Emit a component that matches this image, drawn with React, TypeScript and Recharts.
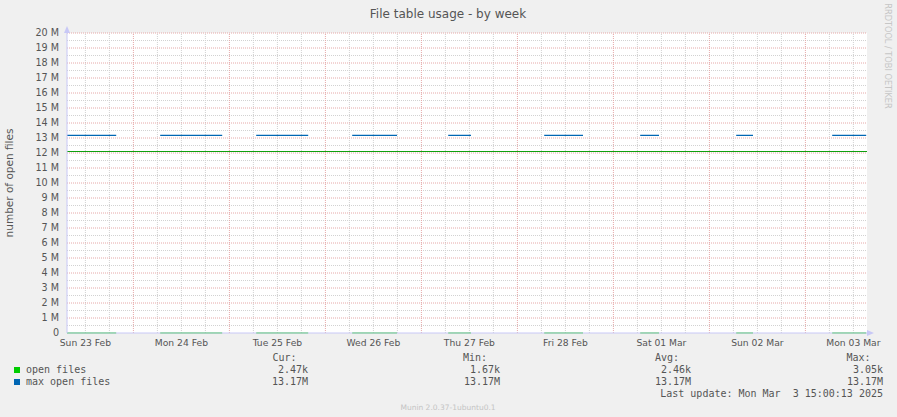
import React from "react";
import {
  LineChart,
  Line,
  XAxis,
  YAxis,
  CartesianGrid,
  ReferenceLine,
  ReferenceDot,
} from "recharts";

// hours since Sun 23 Feb 00:00; nulls break the line where the host was down
const hours = [7.4, 19.7, 25, 30.7, 46.2, 50, 54.7, 67.7, 74, 78.7, 89.9, 98, 102.7, 108.4, 120, 126.7, 136.4, 144, 150.7, 155.4, 165, 174.7, 178.9, 190, 198.7, 207.2];
const openFiles = [1900, 2600, null, 1670, 2900, null, 2300, 2700, null, 2200, 3050, null, 2100, 2500, null, 2400, 2800, null, 2000, 2600, null, 2300, 2500, null, 2200, 2470];
const maxOpenFiles = [13.17e6, 13.17e6, null, 13.17e6, 13.17e6, null, 13.17e6, 13.17e6, null, 13.17e6, 13.17e6, null, 13.17e6, 13.17e6, null, 13.17e6, 13.17e6, null, 13.17e6, 13.17e6, null, 13.17e6, 13.17e6, null, 13.17e6, 13.17e6];
const warning = 12.1e6;

const dayTicks = [12, 36, 60, 84, 108, 132, 156, 180, 204];
const dayLabels = ["Sun 23 Feb", "Mon 24 Feb", "Tue 25 Feb", "Wed 26 Feb", "Thu 27 Feb", "Fri 28 Feb", "Sat 01 Mar", "Sun 02 Mar", "Mon 03 Mar"];
const X_DOMAIN = [7.4, 207.4];
const Y_MAX = 20e6;

const legendRows = [
  { name: "open files", color: "#00cc00", cur: "2.47k", min: "1.67k", avg: "2.46k", max: "3.05k" },
  { name: "max open files", color: "#0066b3", cur: "13.17M", min: "13.17M", avg: "13.17M", max: "13.17M" },
];

const data = hours.map((h, i) => ({ h, open: openFiles[i], max: maxOpenFiles[i] }));

const yTicks = Array.from({ length: 21 }, (_, i) => i * 1e6);
const yMinor = Array.from({ length: 20 }, (_, i) => (i + 0.5) * 1e6);
const xMajor = [24, 48, 72, 96, 120, 144, 168, 192];
const xMinor: number[] = [];
for (let h = 12; h < X_DOMAIN[1]; h += 6) if (h % 24 !== 0 && h > X_DOMAIN[0]) xMinor.push(h);

const TICK = { fontSize: 9.6, fill: "#555", fontFamily: "DejaVu Sans" };
const XTICK = { ...TICK, fontSize: 9.2 };
const AXIS_COL = "#c8c8f6";
const MINOR = "#d2d2d2";
const MAJOR = "#e6a8a8";
const MONO = { fontFamily: "DejaVu Sans Mono", fontSize: 10, fill: "#555", style: { whiteSpace: "pre" as const } };

const UpArrow = (p: any) => (
  <polygon points={`${p.cx - 3},${p.cy} ${p.cx + 3},${p.cy} ${p.cx},${p.cy - 7}`} fill={AXIS_COL} />
);
const RightArrow = (p: any) => (
  <polygon points={`${p.cx},${p.cy - 3} ${p.cx},${p.cy + 3} ${p.cx + 7},${p.cy}`} fill={AXIS_COL} />
);

export default function App() {
  return (
    <div style={{ position: "absolute", left: 0, top: 0, width: 897, height: 417, background: "#f0f0f0", fontFamily: "DejaVu Sans" }}>
      <LineChart width={897} height={417} data={data} margin={{ top: 33, right: 30, left: 0, bottom: 0 }}>
        <CartesianGrid fill="#ffffff" horizontal={false} vertical={false} />
        <XAxis
          dataKey="h"
          type="number"
          domain={X_DOMAIN}
          ticks={dayTicks}
          tickFormatter={(v: number) => dayLabels[dayTicks.indexOf(v)]}
          tick={XTICK}
          tickLine={false}
          tickSize={3}
          tickMargin={3}
          height={84}
          axisLine={{ stroke: AXIS_COL }}
          allowDataOverflow
        />
        <YAxis
          type="number"
          domain={[0, Y_MAX]}
          ticks={yTicks}
          interval={0}
          tickFormatter={(v: number) => (v === 0 ? "0" : `${v / 1e6} M`)}
          tick={TICK}
          tickLine={false}
          width={67}
          axisLine={{ stroke: AXIS_COL }}
          label={{ value: "number of open files", angle: -90, position: "insideLeft", offset: 9, style: { fontSize: 10.5, fill: "#555", textAnchor: "middle" } }}
        />
        {yMinor.map((v) => (
          <ReferenceLine key={"ym" + v} y={v} stroke={MINOR} strokeDasharray="1 1" />
        ))}
        {xMinor.map((v) => (
          <ReferenceLine key={"xm" + v} x={v} stroke={MINOR} strokeDasharray="1 1" />
        ))}
        {yTicks.slice(1).map((v) => (
          <ReferenceLine key={"yM" + v} y={v} stroke={MAJOR} strokeDasharray="1 1" />
        ))}
        {xMajor.map((v) => (
          <ReferenceLine key={"xM" + v} x={v} stroke={MAJOR} strokeDasharray="1 1" />
        ))}
        <ReferenceLine y={warning} stroke="#0ea00e" strokeWidth={1} />
        <Line type="linear" dataKey="open" stroke="#00cc00" strokeWidth={1} dot={false} connectNulls={false} isAnimationActive={false} />
        <Line type="linear" dataKey="max" stroke="#0066b3" strokeWidth={1.3} dot={false} connectNulls={false} isAnimationActive={false} />
        <ReferenceDot x={X_DOMAIN[0]} y={Y_MAX} ifOverflow="visible" shape={UpArrow} />
        <ReferenceDot x={X_DOMAIN[1]} y={0} ifOverflow="visible" shape={RightArrow} />
      </LineChart>
      <svg width={897} height={417} style={{ position: "absolute", left: 0, top: 0, pointerEvents: "none" }}>
        <text x={448} y={17.5} textAnchor="middle" fontFamily="DejaVu Sans" fontSize={12} fill="#555">
          File table usage - by week
        </text>
        <text x={884.5} y={56} textAnchor="middle" fontFamily="DejaVu Sans" fontSize={8.2} fill="#c6c6c6" transform="rotate(90 884.5 56)">
          RRDTOOL / TOBI OETIKER
        </text>
        <text x={272.5} y={361} {...MONO}>Cur:</text>
        <text x={463} y={361} {...MONO}>Min:</text>
        <text x={655} y={361} {...MONO}>Avg:</text>
        <text x={846.5} y={361} {...MONO}>Max:</text>
        {legendRows.map((r, i) => (
          <g key={r.name}>
            <rect x={14} y={367 + i * 12} width={6} height={6} fill={r.color} />
            <text x={26} y={373 + i * 12} {...MONO}>{r.name}</text>
            <text x={308} y={373 + i * 12} textAnchor="end" {...MONO}>{r.cur}</text>
            <text x={500} y={373 + i * 12} textAnchor="end" {...MONO}>{r.min}</text>
            <text x={691} y={373 + i * 12} textAnchor="end" {...MONO}>{r.avg}</text>
            <text x={883} y={373 + i * 12} textAnchor="end" {...MONO}>{r.max}</text>
          </g>
        ))}
        <text x={883} y={397} textAnchor="end" {...MONO}>Last update: Mon Mar  3 15:00:13 2025</text>
        <text x={448} y={410} textAnchor="middle" fontFamily="DejaVu Sans" fontSize={7.5} fill="#c4c4c4">
          Munin 2.0.37-1ubuntu0.1
        </text>
      </svg>
    </div>
  );
}
